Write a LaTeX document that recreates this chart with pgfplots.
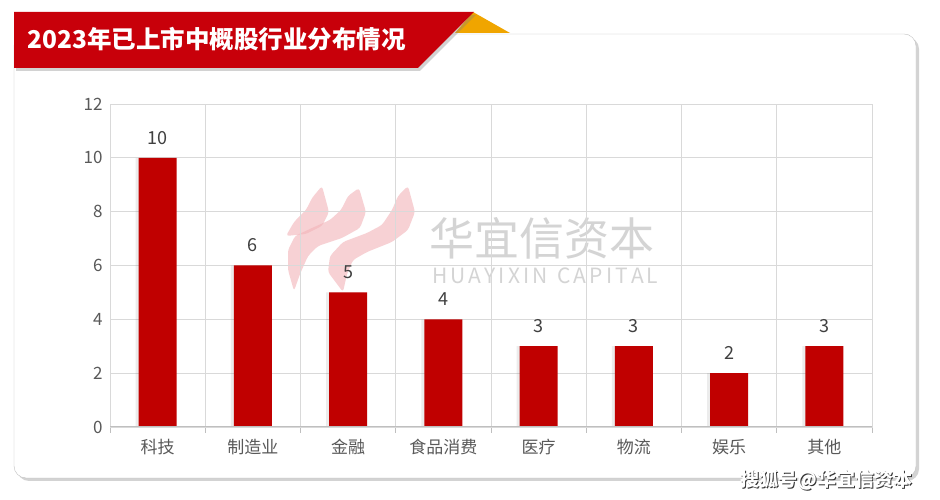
\documentclass[border=0pt]{standalone}
\usepackage{fontspec}
\setmainfont{Noto Sans CJK SC}
\usepackage{pgfplots}
\pgfplotsset{compat=1.18}
\usetikzlibrary{shadows}
\definecolor{barred}{HTML}{C00000}
\definecolor{bannerred}{HTML}{C8000A}
\definecolor{gold}{HTML}{F0A500}
\definecolor{gridgray}{HTML}{D9D9D9}
\definecolor{axisgray}{HTML}{BFBFBF}
\definecolor{labelgray}{HTML}{595959}
\definecolor{wmgray}{HTML}{D4D4D4}
\definecolor{wmpink}{HTML}{F2B3B8}

\begin{document}
\begin{tikzpicture}[x=1pt,y=1pt]
% page frame 940x500, pixel y -> 500-y
\path (0,0) rectangle (940,500);

% card
\draw[draw=axisgray, fill=white, rounded corners=12pt,
      drop shadow={shadow xshift=3pt, shadow yshift=-3pt, opacity=0.35}]
  (14,22) rectangle (916,466);

% watermark logo (three strokes), pixel coords flipped
\begin{scope}[yscale=-1, yshift=-500pt, opacity=0.6]
  \fill[wmpink, rounded corners=3pt] (322,186) -- (329,212) -- (322,226) -- (306,234)
    -- (286,236) -- (294,222) -- (306,210) -- (312,198) -- cycle;
  \fill[wmpink, rounded corners=3pt] (359,188) -- (366,212) -- (360,228) -- (342,238)
    -- (318,246) -- (308,256) -- (300,274) -- (294,291) -- (288,270) -- (288,250)
    -- (295,236) -- (312,228) -- (330,220) -- (341,210) -- (348,196) -- cycle;
  \fill[wmpink, rounded corners=3pt] (408,186) -- (415,212) -- (408,230) -- (392,242)
    -- (367,252) -- (353,260) -- (347,274) -- (343,292) -- (328,272) -- (330,256)
    -- (343,242) -- (367,233) -- (382,225) -- (392,210) -- (398,196) -- cycle;
\end{scope}
\node[text=wmgray, font=\fontsize{45}{45}\selectfont, anchor=center] at (542,262) {华宜信资本};
\node[text=wmgray, font=\fontsize{21}{21}\selectfont, anchor=center] at (541,224)
  {\makebox[218pt][s]{H U A Y I X I N \ \ C A P I T A L}};

\begin{axis}[
    at={(110pt,73pt)}, anchor=south west,
    scale only axis, width=762pt, height=323pt,
    xmin=-0.5, xmax=7.5, ymin=0, ymax=12,
    ytick={0,2,...,12},
    xtick={0,...,7},
    xticklabels={科技,制造业,金融,食品消费,医疗,物流,娱乐,其他},
    minor xtick={-0.5,0.5,...,7.5},
    xminorgrids=true, ymajorgrids=true,
    grid style={draw=gridgray, line width=0.8pt},
    minor grid style={draw=gridgray, line width=0.8pt},
    axis line style={draw=gridgray, line width=0.8pt},
    tick align=outside, xtick pos=bottom, ytick pos=left,
    major tick length=0pt, minor tick length=6pt,
    minor tick style={draw=axisgray, line width=0.8pt},
    ticklabel style={text=labelgray, font=\fontsize{17}{17}\selectfont},
    /pgf/number format/assume math mode=true,
    yticklabel style={xshift=-4pt},
    xticklabel style={yshift=-9pt},
    ybar, bar width=38pt,
    nodes near coords,
    nodes near coords style={text=black!75, font=\fontsize{18}{18}\selectfont, anchor=south, yshift=10pt},
    clip=false,
]
\addplot[fill=barred, draw=none,
  drop shadow={shadow xshift=-3pt, shadow yshift=0pt, opacity=0.15}] coordinates {
  (0,10) (1,6) (2,5) (3,4) (4,3) (5,3) (6,2) (7,3)
};
\draw[axisgray, line width=1pt] (axis cs:-0.5,0) -- (axis cs:7.5,0);
\end{axis}

% title banner
\fill[gold] (455,467) -- (473,488) -- (510,467) -- cycle;
\fill[bannerred, drop shadow={shadow xshift=2pt, shadow yshift=-3pt, opacity=0.35}]
  (14,488) -- (474,488) -- (418,432) -- (14,432) -- cycle;
\node[text=white, font=\bfseries\fontsize{24.5}{24.5}\selectfont, anchor=west] at (24,461)
  {2023年已上市中概股行业分布情况};

% source
\node[text=black!80, font=\bfseries\fontsize{19}{19}\selectfont, anchor=east] at (917,19) {搜狐号@华宜信资本};
\node[text=white, font=\bfseries\fontsize{19}{19}\selectfont, anchor=east] at (916,20) {搜狐号@华宜信资本};
\end{tikzpicture}
\end{document}
